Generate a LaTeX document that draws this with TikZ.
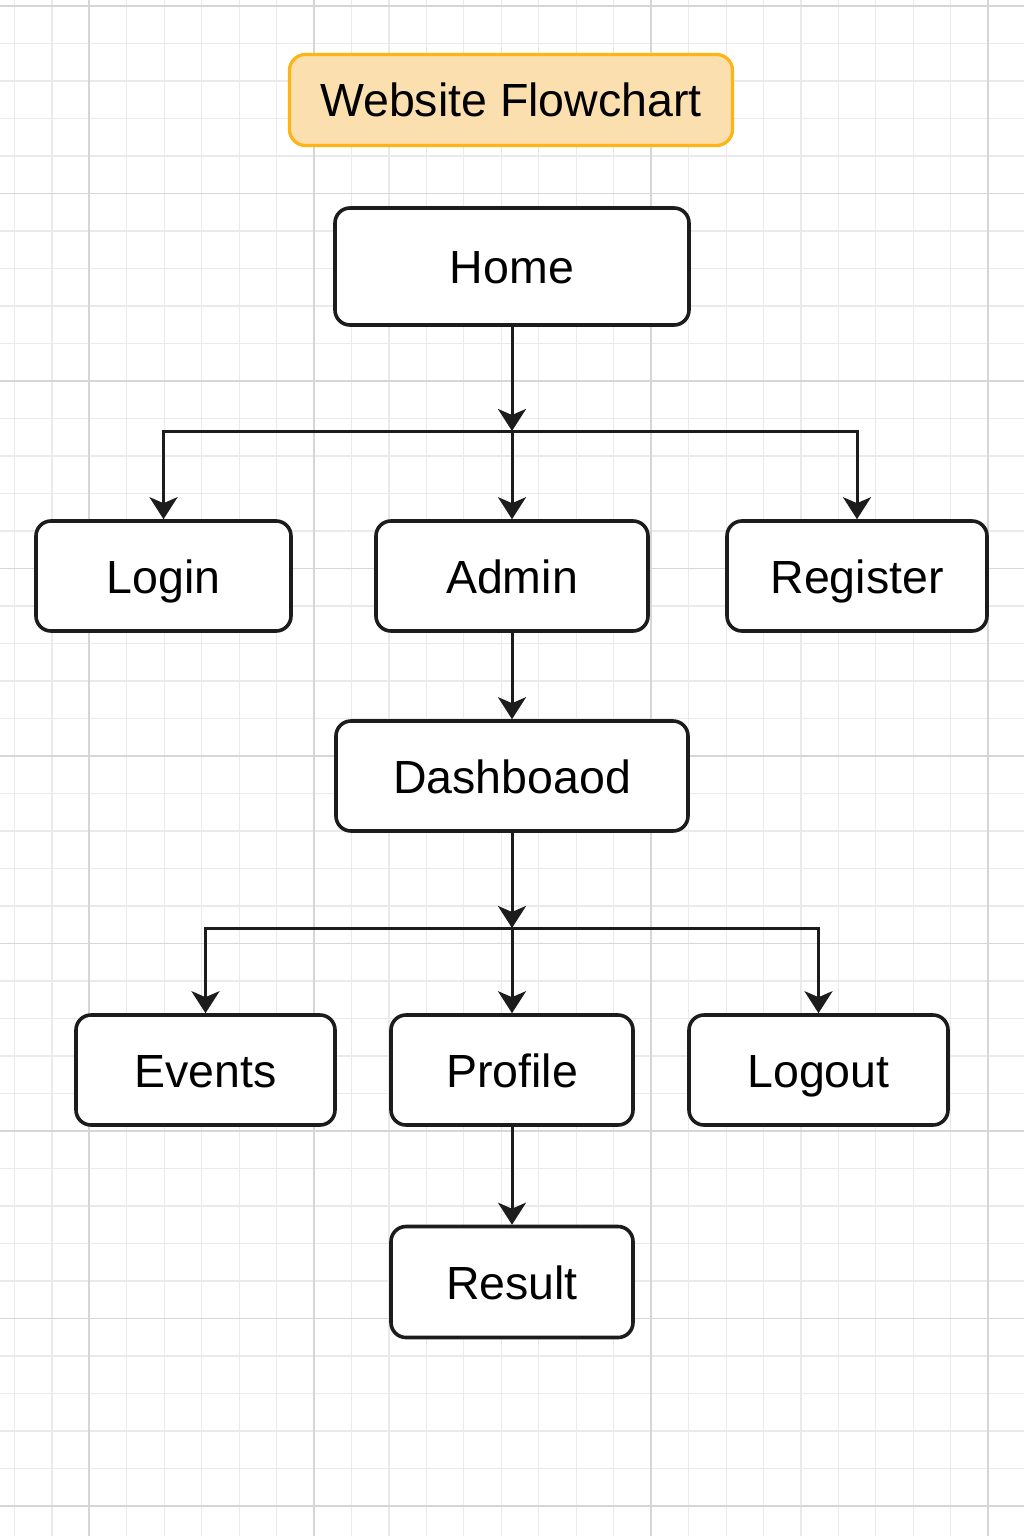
\documentclass[tikz,border=0pt]{standalone}
\usepackage{fontspec}
\setmainfont{Liberation Sans}
\usepackage{tikz}
\usetikzlibrary{arrows.meta,positioning}
\definecolor{flowink}{HTML}{1C1C1C}
\definecolor{flowgold}{HTML}{FDB515}
\definecolor{flowpeach}{HTML}{FCDFAE}
\definecolor{flowgridlight}{HTML}{EAEAEA}
\definecolor{flowgriddark}{HTML}{D6D6D6}

\begin{document}
\begin{tikzpicture}[
  x=1pt, y=-1pt,
  every node/.style={font=\fontsize{46.5}{56}\selectfont, text=black},
  box/.style={draw=flowink, line width=3.6pt, rounded corners=15pt, fill=white,
              minimum height=110pt, text height=34pt, text depth=0pt, inner sep=0pt},
  titlebox/.style={draw=flowgold, line width=3.2pt, rounded corners=16pt,
                   fill=flowpeach, minimum width=443pt, minimum height=91pt,
                   text height=34pt, text depth=0pt, inner sep=0pt},
  arrow/.style={-{Stealth[length=22pt, width=28pt, inset=6pt]},
                line width=3pt, draw=flowink},
  gridminor/.style={draw=flowgridlight, line width=1.1pt},
  gridmajor/.style={draw=flowgriddark, line width=1.4pt}
]
\useasboundingbox (0,0) rectangle (1024,1536);
\fill[white] (0,0) rectangle (1024,1536);
% background grid
\foreach \k in {0,...,27} \draw[gridminor] ({14.5+37.45*\k},0) -- ++(0,1536);
\foreach \k in {0,...,41} \draw[gridminor] (0,{6+37.5*\k}) -- ++(1024,0);
\foreach \gx in {89,314,651,988} \draw[gridmajor] (\gx,0) -- ++(0,1536);
\foreach \k in {0,...,8} \draw[gridmajor] (0,{6+187.5*\k}) -- ++(1024,0);

\node[titlebox] (title) at (511,100) {Website Flowchart};

\node[box, minimum width=354pt, minimum height=117pt] (home) at (512,266.5) {Home};
\node[box, minimum width=255pt] (login) at (163.5,576) {Login};
\node[box, minimum width=272pt] (admin) at (512,576) {Admin};
\node[box, minimum width=260pt] (register) at (857,576) {Register};
\node[box, minimum width=352pt] (dash) at (512,776) {Dashboaod};
\node[box, minimum width=259pt] (events) at (205.5,1070) {Events};
\node[box, minimum width=242pt] (profile) at (512,1070) {Profile};
\node[box, minimum width=259pt] (logout) at (818.5,1070) {Logout};
\node[box, minimum width=242pt, minimum height=111pt] (result) at (512,1282) {Result};

\coordinate (split1) at (512,431);
\coordinate (split2) at (512,928);

\draw[arrow] (home) -- (split1);
\draw[arrow] (split1) -| (login);
\draw[arrow] (split1) -- (admin);
\draw[arrow] (split1) -| (register);
\draw[arrow] (admin) -- (dash);
\draw[arrow] (dash) -- (split2);
\draw[arrow] (split2) -| (events);
\draw[arrow] (split2) -- (profile);
\draw[arrow] (split2) -| (logout);
\draw[arrow] (profile) -- (result);
\end{tikzpicture}
\end{document}
